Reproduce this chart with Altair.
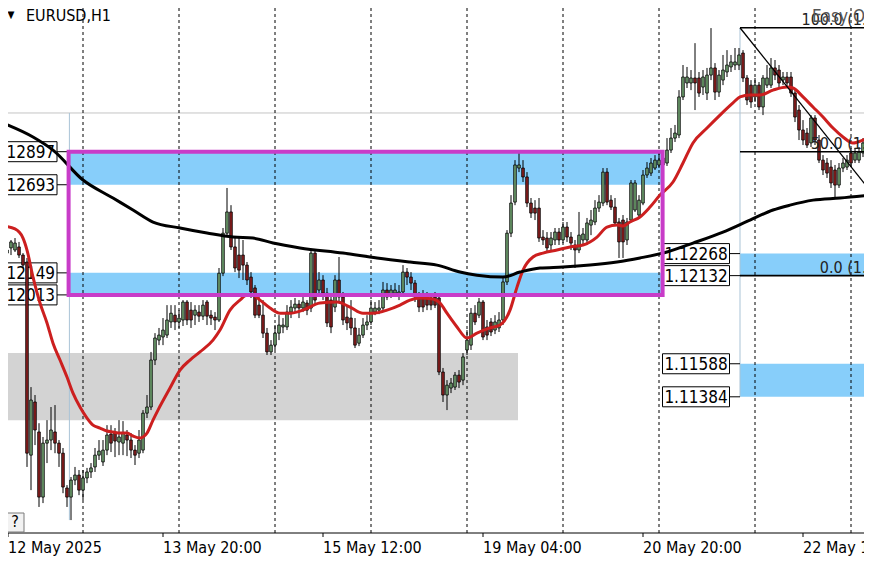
import altair as alt
import pandas as pd

# ---------------- data ----------------
opens = [
    1.12401, 1.12271, 1.12303, 1.12290, 1.12309, 1.12259, 1.12216, 1.11024, 1.11352, 1.11167,
    1.10765, 1.11098, 1.11117, 1.11167, 1.11098, 1.11036, 1.10821, 1.10765, 1.10870, 1.10901,
    1.10808, 1.10883, 1.10920, 1.10951, 1.11024, 1.10982, 1.11055, 1.11154, 1.11160, 1.11105,
    1.11098, 1.11148, 1.11117, 1.11055, 1.11036, 1.11055, 1.11283, 1.11321, 1.11611, 1.11734,
    1.11753, 1.11765, 1.11846, 1.11888, 1.11846, 1.11858, 1.11969, 1.11919, 1.11888, 1.11907,
    1.11882, 1.11969, 1.11888, 1.11876, 1.11858, 1.12147, 1.12394, 1.12525, 1.12309, 1.12259,
    1.12259, 1.12197, 1.12123, 1.12056, 1.11950, 1.11888, 1.11777, 1.11661, 1.11703, 1.11777,
    1.11815, 1.11815, 1.11907, 1.11932, 1.11956, 1.11932, 1.11963, 1.11932, 1.12271, 1.12043,
    1.12105, 1.12024, 1.11981, 1.11938, 1.12105, 1.12000, 1.11876, 1.11870, 1.11809, 1.11715,
    1.11765, 1.11827, 1.11846, 1.11907, 1.11919, 1.11932, 1.12043, 1.12012, 1.12024, 1.12012,
    1.12031, 1.12154, 1.12123, 1.12086, 1.12000, 1.11994, 1.11994, 1.11994, 1.12000, 1.11994,
    1.11537, 1.11395, 1.11438, 1.11444, 1.11518, 1.11487, 1.11673, 1.11703, 1.11900, 1.11888,
    1.11969, 1.11815, 1.11846, 1.11796, 1.11809, 1.11858, 1.12093, 1.12394, 1.12586, 1.12796,
    1.12796, 1.12741, 1.12580, 1.12549, 1.12549, 1.12370, 1.12364, 1.12321, 1.12352, 1.12401,
    1.12352, 1.12432, 1.12370, 1.12321, 1.12290, 1.12352, 1.12352, 1.12444, 1.12463, 1.12549,
    1.12580, 1.12771, 1.12598, 1.12555, 1.12463, 1.12475, 1.12352, 1.12475, 1.12537, 1.12506,
    1.12580, 1.12753, 1.12765, 1.12796, 1.12815, 1.12815, 1.12827, 1.12907, 1.12981, 1.13000,
    1.13235, 1.13321, 1.13321, 1.13352, 1.13352, 1.13296, 1.13259, 1.13370, 1.13414, 1.13265,
    1.13339, 1.13389, 1.13420, 1.13432, 1.13432, 1.13506, 1.13352, 1.13308, 1.13235, 1.13308,
    1.13173, 1.13308, 1.13308, 1.13414, 1.13401, 1.13339, 1.13358, 1.13358, 1.13259, 1.13154,
    1.13031, 1.13012, 1.12951, 1.13105, 1.12969, 1.12845, 1.12827, 1.12802, 1.12784, 1.12691,
    1.12796, 1.12802, 1.12889, 1.12845, 1.12845, 1.12889, 1.12969, 1.13049,
]
closes = [
    1.12271, 1.12290, 1.12340, 1.12333, 1.12259, 1.12197, 1.11036, 1.11364, 1.11179, 1.10765,
    1.11098, 1.11117, 1.11179, 1.11098, 1.11036, 1.10827, 1.10765, 1.10870, 1.10901, 1.10808,
    1.10883, 1.10920, 1.10945, 1.11024, 1.11049, 1.11055, 1.11148, 1.11098, 1.11111, 1.11136,
    1.11160, 1.11117, 1.11055, 1.11024, 1.11117, 1.11283, 1.11321, 1.11611, 1.11747, 1.11765,
    1.11796, 1.11858, 1.11900, 1.11846, 1.11870, 1.11969, 1.11858, 1.11858, 1.11919, 1.11882,
    1.11950, 1.11882, 1.11870, 1.11858, 1.12147, 1.12394, 1.12525, 1.12309, 1.12179, 1.12166,
    1.12197, 1.12105, 1.12031, 1.11888, 1.11888, 1.11777, 1.11661, 1.11703, 1.11777, 1.11827,
    1.11827, 1.11907, 1.11938, 1.11956, 1.11932, 1.11969, 1.11919, 1.12271, 1.11981, 1.12105,
    1.12024, 1.11840, 1.11815, 1.12105, 1.12000, 1.11858, 1.11840, 1.11809, 1.11703, 1.11765,
    1.11827, 1.11846, 1.11932, 1.11932, 1.11932, 1.12043, 1.12000, 1.12043, 1.12043, 1.12031,
    1.12154, 1.12123, 1.12086, 1.12000, 1.11938, 1.11938, 1.11950, 1.11950, 1.11950, 1.11537,
    1.11395, 1.11456, 1.11469, 1.11518, 1.11475, 1.11630, 1.11734, 1.11900, 1.11846, 1.11969,
    1.11753, 1.11765, 1.11784, 1.11846, 1.11858, 1.12093, 1.12394, 1.12580, 1.12815, 1.12815,
    1.12741, 1.12580, 1.12518, 1.12518, 1.12364, 1.12352, 1.12303, 1.12364, 1.12401, 1.12352,
    1.12432, 1.12370, 1.12333, 1.12290, 1.12382, 1.12389, 1.12457, 1.12475, 1.12549, 1.12586,
    1.12771, 1.12586, 1.12555, 1.12457, 1.12340, 1.12340, 1.12463, 1.12704, 1.12704, 1.12598,
    1.12753, 1.12796, 1.12827, 1.12845, 1.12845, 1.12858, 1.12907, 1.12981, 1.13012, 1.13235,
    1.13358, 1.13358, 1.13352, 1.13321, 1.13259, 1.13358, 1.13370, 1.13414, 1.13265, 1.13370,
    1.13401, 1.13432, 1.13451, 1.13451, 1.13494, 1.13352, 1.13216, 1.13204, 1.13308, 1.13173,
    1.13352, 1.13352, 1.13414, 1.13370, 1.13321, 1.13358, 1.13321, 1.13259, 1.13111, 1.13031,
    1.12969, 1.12938, 1.13105, 1.12969, 1.12845, 1.12784, 1.12765, 1.12704, 1.12691, 1.12796,
    1.12827, 1.12845, 1.12827, 1.12889, 1.12895, 1.12951, 1.13154, 1.13198,
]
highs = [
    1.12426, 1.12321, 1.12352, 1.12364, 1.12340, 1.12271, 1.12241, 1.11444, 1.11395, 1.11221,
    1.11136, 1.11240, 1.11321, 1.11333, 1.11117, 1.11068, 1.10839, 1.10889, 1.10951, 1.10932,
    1.10932, 1.10945, 1.10975, 1.11068, 1.11117, 1.11117, 1.11209, 1.11209, 1.11191, 1.11240,
    1.11234, 1.11179, 1.11160, 1.11086, 1.11179, 1.11302, 1.11395, 1.11661, 1.11777, 1.11809,
    1.11870, 1.11950, 1.11950, 1.11950, 1.11919, 1.11981, 1.11981, 1.11969, 1.11950, 1.11950,
    1.11981, 1.11981, 1.11919, 1.11907, 1.12179, 1.12426, 1.12673, 1.12567, 1.12370, 1.12364,
    1.12352, 1.12216, 1.12154, 1.12074, 1.12012, 1.11981, 1.11809, 1.11734, 1.11827, 1.11888,
    1.11870, 1.11950, 1.11981, 1.11994, 1.11981, 1.12000, 1.11981, 1.12290, 1.12290, 1.12154,
    1.12135, 1.12056, 1.12012, 1.12135, 1.12247, 1.12031, 1.11950, 1.11981, 1.11870, 1.11809,
    1.11870, 1.11888, 1.11981, 1.11969, 1.11981, 1.12093, 1.12086, 1.12074, 1.12086, 1.12074,
    1.12197, 1.12179, 1.12154, 1.12105, 1.12031, 1.12043, 1.12031, 1.12012, 1.12031, 1.12012,
    1.11562, 1.11487, 1.11500, 1.11537, 1.11549, 1.11654, 1.11796, 1.11932, 1.11950, 1.11994,
    1.11981, 1.11858, 1.11870, 1.11888, 1.11907, 1.12117, 1.12413, 1.12629, 1.12845, 1.12895,
    1.12845, 1.12771, 1.12611, 1.12598, 1.12611, 1.12413, 1.12401, 1.12401, 1.12426, 1.12426,
    1.12463, 1.12463, 1.12401, 1.12352, 1.12525, 1.12426, 1.12488, 1.12537, 1.12598, 1.12629,
    1.12796, 1.12796, 1.12629, 1.12611, 1.12488, 1.12506, 1.12488, 1.12722, 1.12722, 1.12629,
    1.12784, 1.12833, 1.12858, 1.12876, 1.12895, 1.12907, 1.12981, 1.13043, 1.13062, 1.13277,
    1.13432, 1.13420, 1.13401, 1.13567, 1.13389, 1.13401, 1.13414, 1.13660, 1.13444, 1.13401,
    1.13494, 1.13524, 1.13494, 1.13537, 1.13537, 1.13524, 1.13370, 1.13339, 1.13352, 1.13327,
    1.13370, 1.13432, 1.13475, 1.13463, 1.13432, 1.13389, 1.13389, 1.13389, 1.13290, 1.13185,
    1.13092, 1.13043, 1.13123, 1.13123, 1.13000, 1.12876, 1.12858, 1.12845, 1.12815, 1.12827,
    1.12858, 1.12876, 1.12920, 1.12920, 1.12926, 1.12981, 1.13198, 1.13235,
]
lows = [
    1.12253, 1.12253, 1.12259, 1.12278, 1.12241, 1.12179, 1.10951, 1.10808, 1.11086, 1.10704,
    1.10728, 1.10975, 1.11055, 1.11036, 1.10951, 1.10789, 1.10704, 1.10623, 1.10839, 1.10777,
    1.10747, 1.10851, 1.10883, 1.10920, 1.10994, 1.10957, 1.11024, 1.11043, 1.11012, 1.11024,
    1.11024, 1.11018, 1.11006, 1.10963, 1.11006, 1.11036, 1.11253, 1.11302, 1.11580, 1.11703,
    1.11703, 1.11747, 1.11809, 1.11796, 1.11809, 1.11821, 1.11827, 1.11809, 1.11827, 1.11846,
    1.11858, 1.11827, 1.11827, 1.11796, 1.11846, 1.12129, 1.12376, 1.12290, 1.12154, 1.12117,
    1.12105, 1.12074, 1.11994, 1.11870, 1.11870, 1.11747, 1.11642, 1.11642, 1.11673, 1.11734,
    1.11777, 1.11796, 1.11870, 1.11907, 1.11870, 1.11907, 1.11888, 1.11907, 1.11950, 1.12000,
    1.11981, 1.11815, 1.11777, 1.11907, 1.11969, 1.11827, 1.11796, 1.11765, 1.11685, 1.11697,
    1.11747, 1.11796, 1.11827, 1.11888, 1.11894, 1.11919, 1.11981, 1.11994, 1.12000, 1.11981,
    1.12012, 1.12074, 1.12043, 1.11969, 1.11907, 1.11907, 1.11919, 1.11919, 1.11932, 1.11518,
    1.11352, 1.11302, 1.11407, 1.11426, 1.11438, 1.11456, 1.11642, 1.11673, 1.11827, 1.11870,
    1.11734, 1.11734, 1.11759, 1.11771, 1.11784, 1.11827, 1.12074, 1.12370, 1.12567, 1.12771,
    1.12710, 1.12555, 1.12488, 1.12475, 1.12340, 1.12321, 1.12278, 1.12290, 1.12321, 1.12321,
    1.12333, 1.12340, 1.12290, 1.12179, 1.12271, 1.12321, 1.12321, 1.12382, 1.12444, 1.12525,
    1.12561, 1.12567, 1.12537, 1.12438, 1.12241, 1.12241, 1.12321, 1.12463, 1.12525, 1.12488,
    1.12567, 1.12735, 1.12747, 1.12784, 1.12796, 1.12784, 1.12809, 1.12889, 1.12957, 1.12981,
    1.13216, 1.13290, 1.13277, 1.13154, 1.13235, 1.13247, 1.13216, 1.13339, 1.13216, 1.13235,
    1.13308, 1.13358, 1.13389, 1.13401, 1.13401, 1.13327, 1.13185, 1.13167, 1.13204, 1.13154,
    1.13123, 1.13290, 1.13290, 1.13339, 1.13296, 1.13308, 1.13290, 1.13235, 1.13080, 1.12969,
    1.12938, 1.12920, 1.12926, 1.12938, 1.12827, 1.12753, 1.12735, 1.12673, 1.12617, 1.12673,
    1.12771, 1.12784, 1.12802, 1.12827, 1.12827, 1.12864, 1.12951, 1.13031,
]
bars = list(range(len(opens)))

# red moving average (bar, value)
ma_fast_bar = [0, 3, 5, 6, 7.5, 9.25, 11, 12.5, 14.25, 16, 17.5, 19.25, 21, 22.5, 24.25, 26, 27.5,
               29.25, 31, 32.5, 34.25, 36, 37.5, 38.75, 41.75, 44.25, 46.75, 49.25, 52.5, 54.25,
               56.75, 59.25, 61, 62.5, 64.25, 66.75, 69.25, 71.75, 75, 79.25, 83.5, 86.75, 90,
               92.5, 96, 99.25, 101.75, 104.25, 107.5, 109.25, 111, 113.5, 116, 118.5, 121.75,
               124.25, 126.75, 128.5, 130, 132.5, 135, 138.5, 141.75, 145, 148.5, 151, 153.5, 155,
               156.75, 159.25, 161.75, 164.25, 167.5, 170, 172.5, 176, 179.25, 182.5, 184.25,
               186.75, 189.25, 192.5, 196, 197.5, 200, 202.5, 205, 207.5, 210, 212.5, 215, 216.75]
ma_fast_val = [1.12438, 1.12420, 1.12364, 1.12290, 1.12123, 1.11963, 1.11840, 1.11715, 1.11611,
               1.11506, 1.11407, 1.11321, 1.11253, 1.11209, 1.11191, 1.11173, 1.11167, 1.11160,
               1.11160, 1.11142, 1.11130, 1.11160, 1.11240, 1.11302, 1.11438, 1.11549, 1.11611,
               1.11661, 1.11734, 1.11796, 1.11919, 1.11981, 1.12012, 1.12012, 1.11981, 1.11932,
               1.11900, 1.11900, 1.11919, 1.11963, 1.11969, 1.11938, 1.11900, 1.11900, 1.11919,
               1.11950, 1.11981, 1.11994, 1.11988, 1.11963, 1.11900, 1.11815, 1.11747, 1.11777,
               1.11809, 1.11827, 1.11919, 1.12061, 1.12166, 1.12247, 1.12271, 1.12290, 1.12309,
               1.12321, 1.12370, 1.12432, 1.12444, 1.12438, 1.12463, 1.12494, 1.12555, 1.12629,
               1.12710, 1.12827, 1.12951, 1.13043, 1.13123, 1.13198, 1.13235, 1.13247, 1.13247,
               1.13277, 1.13296, 1.13290, 1.13235, 1.13173, 1.13111, 1.13043, 1.12988, 1.12951,
               1.12969, 1.12988]
# black moving average (bar, value)
ma_slow_bar = [0, 7.5, 12.5, 20, 27.5, 32.5, 37.5, 44.25, 51, 57.5, 62.5, 67.5, 74.25, 85, 93.5,
               101.75, 108.5, 114.25, 118.5, 125, 129.25, 134.25, 140, 146.75, 153.5, 159.25, 166,
               172.5, 180, 186.75, 192.5, 196.75, 202.5, 209.25, 216.75]
ma_slow_val = [1.13074, 1.12988, 1.12907, 1.12722, 1.12611, 1.12537, 1.12463, 1.12426, 1.12395,
               1.12370, 1.12364, 1.12333, 1.12303, 1.12271, 1.12241, 1.12216, 1.12197, 1.12154,
               1.12135, 1.12123, 1.12154, 1.12179, 1.12185, 1.12197, 1.12216, 1.12241, 1.12278,
               1.12333, 1.12401, 1.12475, 1.12537, 1.12567, 1.12598, 1.12611, 1.12629]

tick_bars = [1.25, 40, 80, 120, 160, 200]
tick_labels = ["12 May 2025", "13 May 20:00", "15 May 12:00", "19 May 04:00",
               "20 May 20:00", "22 May 12:00"]
grid_bars = [20, 44, 68, 92, 116, 140, 164, 188, 212]

box_bar0, box_bar1 = 16.4, 164.9
box_top, box_bot = 1.12897, 1.12013
left_band_top = [1.12897, 1.12149]
left_band_bot = [1.12693, 1.12013]
gray_bar0, gray_bar1 = 0, 128.75
gray_top, gray_bot = 1.11654, 1.11240

fib_bar = 184.25
fib_end_bar = 232
fib_levels = ["100.0", "50.0", "0.0"]
fib_prices = [1.13662, 1.12897, 1.12132]
fib_label_bar = 228.75
trend_bar = [184.25, 217.25]
trend_price = [1.13662, 1.12642]
right_band_top = [1.12268, 1.11588]
right_band_bot = [1.12132, 1.11384]
left_labels = [1.12897, 1.12693, 1.12149, 1.12013]
right_labels = [1.12268, 1.12132, 1.11588, 1.11384]
bid_price = 1.13136
vlines_bar = [16.6, 184.25]
vlines_top = [1.13136, 1.13662]
vlines_bot = [1.10623, 1.11384]

# ---------------- chart ----------------
FONT = "DejaVu Sans Condensed, DejaVu Sans, sans-serif"
W, H = 856, 525
xs = alt.Scale(domain=[1.25, 1.25 + W / 4.0], nice=False, zero=False, padding=0)
ys = alt.Scale(domain=[1.105433, 1.13784], nice=False, zero=False, padding=0)


def X(f):
    return alt.X(f, type="quantitative", scale=xs, axis=None)


def Y(f):
    return alt.Y(f, type="quantitative", scale=ys, axis=None)


gray = pd.DataFrame({"b0": [gray_bar0], "b1": [gray_bar1], "p0": [gray_top], "p1": [gray_bot]})
gray_layer = alt.Chart(gray).mark_rect(color="#D3D3D3").encode(
    x=X("b0"), x2="b1:Q", y=Y("p0"), y2="p1:Q")

bands = pd.DataFrame({
    "b0": [box_bar0] * 2 + [fib_bar] * 2,
    "b1": [box_bar1] * 2 + [fib_end_bar] * 2,
    "p0": left_band_top + right_band_top,
    "p1": left_band_bot + right_band_bot,
})
band_layer = alt.Chart(bands).mark_rect(color="#87CEFA").encode(
    x=X("b0"), x2="b1:Q", y=Y("p0"), y2="p1:Q")

bid_layer = alt.Chart(pd.DataFrame({"p": [bid_price]})).mark_rule(
    color="#C4C4C4", strokeWidth=1).encode(y=Y("p"))

grid_layer = alt.Chart(pd.DataFrame({"b": grid_bars})).mark_rule(
    color="black", strokeWidth=1, strokeDash=[3, 3]).encode(x=X("b"))

vl = pd.DataFrame({"b": vlines_bar, "p0": vlines_top, "p1": vlines_bot})
vline_layer = alt.Chart(vl).mark_rule(color="#A9C3D6", strokeWidth=1).encode(
    x=X("b"), y=Y("p0"), y2="p1:Q")

# time axis drawn by hand along the bottom of the plot
ticks = pd.DataFrame({"b": tick_bars, "t": tick_labels})
axis_line = alt.Chart(pd.DataFrame({"p": [1.105433]})).mark_rule(
    color="black", strokeWidth=1).encode(y=Y("p"))
axis_ticks = alt.Chart(ticks).mark_rule(color="black", strokeWidth=1).encode(
    x=X("b"), y=alt.value(H), y2=alt.value(H + 4))
axis_text = alt.Chart(ticks).mark_text(
    align="left", baseline="alphabetic", font=FONT, fontSize=16, color="black").encode(
    x=X("b"), y=alt.value(H + 20), text="t:N")

# price labels
lab_l = pd.DataFrame({"b": [box_bar0] * len(left_labels), "p": left_labels,
                      "t": [f"{v:.5f}" for v in left_labels]})
lab_r = pd.DataFrame({"b": [fib_bar] * len(right_labels), "p": right_labels,
                      "t": [f"{v:.5f}" for v in right_labels]})
lbox_l = alt.Chart(lab_l).mark_rect(fill="white", stroke="black", strokeWidth=1,
                                    xOffset=-80, x2Offset=-11.6, yOffset=-10, y2Offset=10).encode(
    x=X("b"), x2="b:Q", y=Y("p"), y2="p:Q")
ltick_l = alt.Chart(lab_l).mark_rule(color="black", strokeWidth=1, xOffset=-11.6).encode(
    x=X("b"), x2="b:Q", y=Y("p"))
ltext_l = alt.Chart(lab_l).mark_text(align="right", baseline="middle", dx=-13.5, dy=1,
                                     font=FONT, fontSize=17, color="black").encode(
    x=X("b"), y=Y("p"), text="t:N")
lbox_r = alt.Chart(lab_r).mark_rect(fill="white", stroke="black", strokeWidth=1,
                                    xOffset=-77.5, x2Offset=-10.5, yOffset=-10, y2Offset=10).encode(
    x=X("b"), x2="b:Q", y=Y("p"), y2="p:Q")
ltick_r = alt.Chart(lab_r).mark_rule(color="black", strokeWidth=1, xOffset=-10.5).encode(
    x=X("b"), x2="b:Q", y=Y("p"))
ltext_r = alt.Chart(lab_r).mark_text(align="center", baseline="middle", dx=-44, dy=1,
                                     font=FONT, fontSize=17, color="black").encode(
    x=X("b"), y=Y("p"), text="t:N")

# candles
cd = pd.DataFrame({"bar": bars, "open": opens, "high": highs, "low": lows, "close": closes})
cd["dir"] = ["up" if c >= o else "down" for o, c in zip(opens, closes)]
wick = alt.Chart(cd).mark_rule(color="black", strokeWidth=1).encode(
    x=X("bar"), y=Y("low"), y2="high:Q")
body = alt.Chart(cd).mark_bar(size=2.6, stroke="black", strokeWidth=0.8).encode(
    x=X("bar"), y=Y("open"), y2="close:Q",
    color=alt.Color("dir:N", scale=alt.Scale(domain=["up", "down"],
                                             range=["#6E9F6E", "#8B1E1E"]), legend=None))

fast = alt.Chart(pd.DataFrame({"b": ma_fast_bar, "v": ma_fast_val})).mark_line(
    color="#CC1F1F", strokeWidth=3, interpolate="monotone").encode(x=X("b"), y=Y("v"))
slow = alt.Chart(pd.DataFrame({"b": ma_slow_bar, "v": ma_slow_val})).mark_line(
    color="black", strokeWidth=3, interpolate="monotone").encode(x=X("b"), y=Y("v"))

box = pd.DataFrame({"b0": [box_bar0], "b1": [box_bar1], "p0": [box_top], "p1": [box_bot]})
box_layer = alt.Chart(box).mark_rect(fillOpacity=0, stroke="#C83CC8", strokeWidth=4).encode(
    x=X("b0"), x2="b1:Q", y=Y("p0"), y2="p1:Q")

fib = pd.DataFrame({"b0": [fib_bar] * 3, "b1": [fib_end_bar] * 3, "p": fib_prices,
                    "bl": [fib_label_bar] * 3,
                    "t": [f"{l} ({p:.5f})" for l, p in zip(fib_levels, fib_prices)]})
fib_lines = alt.Chart(fib).mark_rule(color="black", strokeWidth=1.6).encode(
    x=X("b0"), x2="b1:Q", y=Y("p"))
fib_text = alt.Chart(fib).mark_text(align="right", baseline="alphabetic", dy=-3, font=FONT,
                                    fontSize=16, color="#222222").encode(
    x=X("bl"), y=Y("p"), text="t:N")
trend = alt.Chart(pd.DataFrame({"b": trend_bar, "p": trend_price})).mark_line(
    color="black", strokeWidth=1.3).encode(x=X("b"), y=Y("p"))

# window furniture
title_tri = alt.Chart(pd.DataFrame({"t": ["\u25BC"]})).mark_text(
    font=FONT, fontSize=10, color="black", align="center", baseline="middle").encode(
    x=alt.value(3), y=alt.value(7), text="t:N")
title_txt = alt.Chart(pd.DataFrame({"t": ["EURUSD,H1"]})).mark_text(
    font=FONT, fontSize=16, color="black", align="left", baseline="middle").encode(
    x=alt.value(18), y=alt.value(8), text="t:N")
easy = alt.Chart(pd.DataFrame({"t": ["Easy Order"]})).mark_text(
    font=FONT, fontSize=17, color="#555555", align="left", baseline="middle").encode(
    x=alt.value(804), y=alt.value(9), text="t:N")
qbox = alt.Chart(pd.DataFrame({"t": ["?"]})).mark_rect(
    fill="#F2F2F2", stroke="#7A7A7A", strokeWidth=1).encode(
    x=alt.value(-2), x2=alt.value(16), y=alt.value(505), y2=alt.value(524))
qtxt = alt.Chart(pd.DataFrame({"t": ["?"]})).mark_text(
    font=FONT, fontSize=16, color="black", align="center", baseline="middle").encode(
    x=alt.value(7), y=alt.value(514), text="t:N")

chart = alt.layer(
    gray_layer, band_layer, bid_layer, grid_layer, vline_layer,
    lbox_l, ltick_l, ltext_l, lbox_r, ltick_r, ltext_r,
    wick, body, fast, slow, box_layer, fib_lines, trend, fib_text,
    axis_line, axis_ticks, axis_text,
    title_tri, title_txt, easy, qbox, qtxt,
).properties(
    width=W, height=H,
    autosize=alt.AutoSizeParams(type="none"),
    padding={"left": 0, "top": 0, "right": 0, "bottom": 29},
    background="white",
).configure_view(stroke=None)

chart.save("out.html", embed_options={"renderer": "svg", "actions": False})
